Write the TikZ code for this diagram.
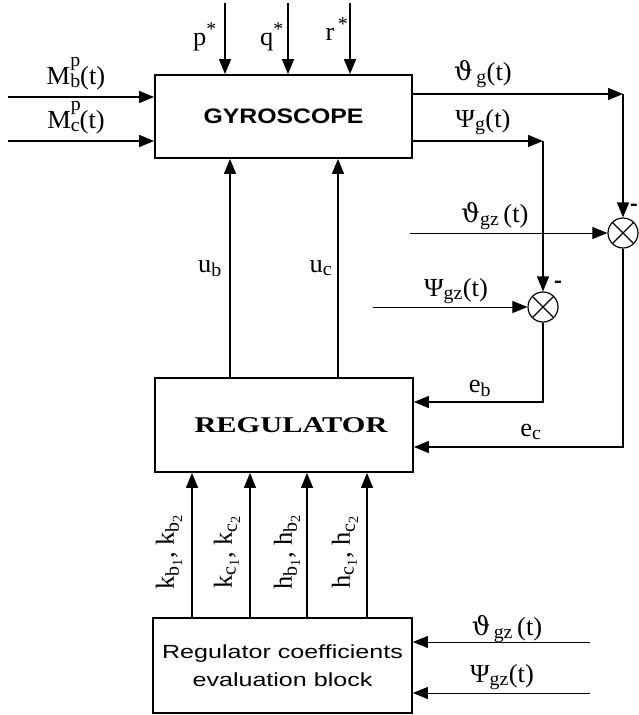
\documentclass[tikz,border=0pt]{standalone}
\usepackage{fontspec}
\usepackage{amsmath}
\setmainfont{Liberation Serif}[FakeStretch=1.02]
\newfontfamily\sansf{Liberation Sans}[FakeStretch=1.18]
\newfontfamily\evalf{Liberation Sans}[FakeStretch=1.32]
\newfontfamily\regf{Liberation Serif}[FakeStretch=1.35]
\newfontfamily\grk{DejaVu Serif}
\DeclareMathSizes{26}{26}{19.5}{14}
\usetikzlibrary{arrows.meta,calc}
\newcommand{\T}[1]{\text{#1}}
\newcommand{\vth}{\text{\grk ϑ}}
\newcommand{\smallsz}{\fontsize{19.5}{20}\selectfont}
\newcommand{\Mlab}[1]{M\rlap{\raisebox{18pt}{\smallsz p}}\raisebox{-3pt}{\smallsz #1}(t)}
\begin{document}
\begin{tikzpicture}[x=1pt,y=-1pt,
  box/.style={draw, line width=1.8pt, inner sep=0pt},
  conn/.style={line width=1.5pt},
  arr/.style={conn, -{Triangle[length=15pt,width=12pt]}},
  thinarr/.style={line width=1pt, -{Triangle[length=15pt,width=12pt]}},
  earr/.style={line width=1.2pt, -{Triangle[length=15pt,width=12pt]}},
  lbl/.style={font=\fontsize{26}{30}\selectfont, inner sep=0pt},
  minus/.style={font=\sansf\bfseries\fontsize{20}{22}\selectfont, inner sep=0pt},
  sumnode/.style={circle, draw, line width=1.2pt, minimum size=30pt, inner sep=0pt,
    path picture={\draw[line width=1.1pt] (path picture bounding box.north west) -- (path picture bounding box.south east)
      (path picture bounding box.north east) -- (path picture bounding box.south west);}},
]
\useasboundingbox (0,0) rectangle (639,715);

% blocks
\node[box, minimum width=257pt, minimum height=83pt, font=\sansf\bfseries\fontsize{21}{24}\selectfont] (gyro) at (283.5,116.5) {GYROSCOPE};
\node[box, minimum width=258pt, minimum height=94pt, font=\regf\bfseries\fontsize{22.5}{26}\selectfont] (reg) at (284,425) {\hspace*{14pt}REGULATOR};
\node[box, minimum width=259pt, minimum height=95pt, align=center, font=\evalf\fontsize{19}{28}\selectfont] (eval) at (282.5,665.5) {Regulator coefficients\\evaluation block};
\node[sumnode] (s1) at (623,233) {};
\node[sumnode] (s2) at (543,307) {};

% coordinates
\coordinate (pin) at (225,3);
\coordinate (qin) at (288,3);
\coordinate (rin) at (350,3);
\coordinate (mb) at (8,97);
\coordinate (mc) at (8,141);
\coordinate (c1) at (623,94);
\coordinate (c2) at (543,141);
\coordinate (tgz) at (410,233);
\coordinate (pgz) at (373,307);
\coordinate (eb) at (413,402);
\coordinate (ec) at (413,447);
\coordinate (ub) at (230,300);
\coordinate (uc) at (338,300);
\coordinate (k1) at (192,550);
\coordinate (k2) at (250,550);
\coordinate (k3) at (307,550);
\coordinate (k4) at (367,550);
\coordinate (tgzb) at (590,642);
\coordinate (pgzb) at (590,693);

% connectors
\draw[arr] (pin) -- (pin |- gyro.north);
\draw[arr] (qin) -- (qin |- gyro.north);
\draw[arr] (rin) -- (rin |- gyro.north);
\draw[arr] (mb) -- (mb -| gyro.west);
\draw[arr] (mc) -- (mc -| gyro.west);
\draw[arr] (c1 -| gyro.east) -- (c1);
\draw[arr] (c1) -- (s1.north);
\draw[arr] (c2 -| gyro.east) -- (c2);
\draw[arr] (c2) -- (s2.north);
\draw[thinarr] (tgz) -- (s1.west);
\draw[thinarr] (pgz) -- (s2.west);
\draw[earr] (s2.south) |- (eb -| reg.east);
\draw[earr] (s1.south) |- (ec -| reg.east);
\draw[arr] (ub |- reg.north) -- (ub |- gyro.south);
\draw[arr] (uc |- reg.north) -- (uc |- gyro.south);
\draw[arr] (k1 |- eval.north) -- (k1 |- reg.south);
\draw[earr] (k2 |- eval.north) -- (k2 |- reg.south);
\draw[arr] (k3 |- eval.north) -- (k3 |- reg.south);
\draw[earr] (k4 |- eval.north) -- (k4 |- reg.south);
\draw[thinarr] (tgzb) -- (tgzb -| eval.east);
\draw[thinarr] (pgzb) -- (pgzb -| eval.east);

% labels
\node[lbl, anchor=base] at (205,45) {$\T{p}^{\T{*}}$};
\node[lbl, anchor=base] at (272,45) {$\T{q}^{\T{*}}$};
\node[lbl, anchor=base] at (337,40) {$\T{r}^{\,\T{*}}$};
\node[lbl, anchor=base] at (76,84) {\Mlab{b}};
\node[lbl, anchor=base] at (76,128) {\Mlab{c}};
\node[lbl, anchor=base] at (483,80) {$\vth_{\,\T{g}}\T{(t)}$};
\node[lbl, anchor=base] at (483,127) {$\T{Ψ}_{\T{g}}\T{(t)}$};
\node[lbl, anchor=base] at (495,222) {$\vth_{\T{gz}}\,\T{(t)}$};
\node[lbl, anchor=base] at (456,296) {$\T{Ψ}_{\T{gz}}\T{(t)}$};
\node[lbl, anchor=base] at (210,272) {$\T{u}_{\T{b}}$};
\node[lbl, anchor=base] at (321,272) {$\T{u}_{\T{c}}$};
\node[lbl, anchor=base] at (480,392) {$\T{e}_{\T{b}}$};
\node[lbl, anchor=base] at (531,436) {$\T{e}_{\T{c}}$};
\node[lbl, rotate=90] at (169,552) {$\T{k}_{\T{b}_{\T{1}}}\T{, k}_{\T{b}_{\T{2}}}$};
\node[lbl, rotate=90] at (227,552) {$\T{k}_{\T{c}_{\T{1}}}\T{, k}_{\T{c}_{\T{2}}}$};
\node[lbl, rotate=90] at (287,552) {$\T{h}_{\T{b}_{\T{1}}}\T{, h}_{\T{b}_{\T{2}}}$};
\node[lbl, rotate=90] at (345,552) {$\T{h}_{\T{c}_{\T{1}}}\T{, h}_{\T{c}_{\T{2}}}$};
\node[lbl, anchor=base] at (507,635) {$\vth_{\,\T{gz}}\,\T{(t)}$};
\node[lbl, anchor=base] at (502,682) {$\T{Ψ}_{\T{gz}}\T{(t)}$};
\node[minus] at (634,207) {-};
\node[minus] at (558,284) {-};
\end{tikzpicture}
\end{document}
